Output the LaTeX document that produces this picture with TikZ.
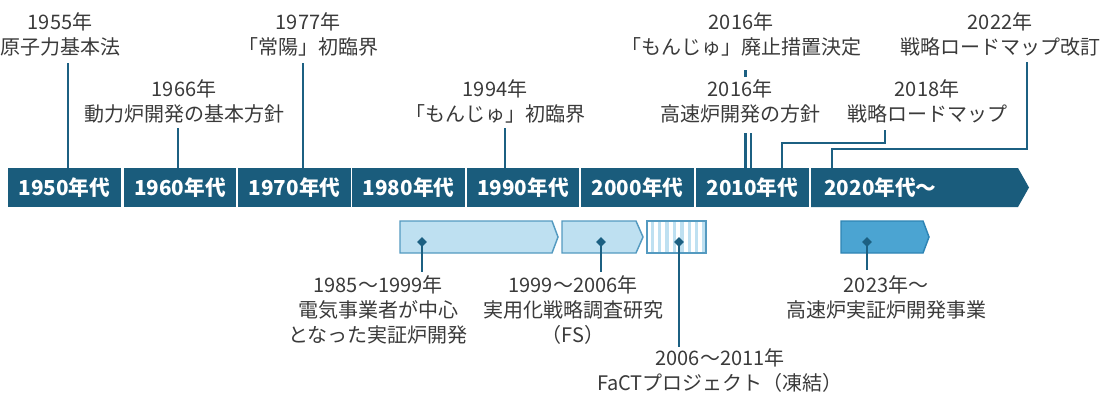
\documentclass[tikz,border=0pt]{standalone}
\usepackage{fontspec}
\setmainfont{Noto Sans CJK JP}
\usetikzlibrary{shapes.geometric}
\definecolor{barcol}{RGB}{26,92,124}
\definecolor{conncol}{RGB}{28,96,130}
\definecolor{lightfill}{RGB}{190,224,241}
\definecolor{lightedge}{RGB}{84,154,192}
\definecolor{midfill}{RGB}{75,164,210}
\definecolor{midedge}{RGB}{46,132,180}
\definecolor{txtcol}{RGB}{58,58,58}
\begin{document}
\begin{tikzpicture}[x=0.75pt,y=-0.75pt,
  lbl/.style={align=center,text=txtcol,font=\fontsize{15}{18.75}\selectfont,inner sep=0pt},
  decade/.style={fill=barcol,text=white,font=\fontsize{15.5}{18}\selectfont\bfseries,minimum width=84.4pt,minimum height=29.25pt,inner sep=0pt},
  decadetext/.style={text=white,font=\fontsize{15.5}{18}\selectfont\bfseries,inner sep=0pt},
  connl/.style={draw=conncol,line width=1.7pt},
  dotmark/.style={diamond,fill=conncol,inner sep=0pt,minimum size=7.5pt},
  lightbox/.style={fill=lightfill,draw=lightedge,line width=1.1pt},
  midbox/.style={fill=midfill,draw=midedge,line width=1.1pt},
]
\useasboundingbox (0,0) rectangle (1109,396);
\coordinate (bartop) at (0,168);

% decade bar
\node[decade] (d1950) at (64.3,187.5) {1950年代};
\node[decade] (d1960) at (180,187.5) {1960年代};
\node[decade] (d1970) at (294.5,187.5) {1970年代};
\node[decade] (d1980) at (408.5,187.5) {1980年代};
\node[decade] (d1990) at (523,187.5) {1990年代};
\node[decade] (d2000) at (637.5,187.5) {2000年代};
\node[decade] (d2010) at (752.3,187.5) {2010年代};
\fill[barcol] (811,168) -- (1018,168) -- (1029,187.5) -- (1018,207) -- (811,207) -- cycle;
\node[decadetext,anchor=west] (d2020) at (824,187.5) {2020年代〜};

% top labels
\node[lbl] (t1955) at (60,34.5) {1955年\\原子力基本法};
\node[lbl] (t1966) at (184,101.5) {1966年\\動力炉開発の基本方針};
\node[lbl] (t1977) at (308,34.5) {1977年\\「常陽」初臨界};
\node[lbl] (t1994) at (495,101.5) {1994年\\「もんじゅ」初臨界};
\node[lbl] (t2016a) at (741,34.5) {2016年\\「もんじゅ」廃止措置決定};
\node[lbl] (t2016b) at (740,101.5) {2016年\\高速炉開発の方針};
\node[lbl] (t2018) at (927,101.5) {2018年\\戦略ロードマップ};
\node[lbl] (t2022) at (1000,34.5) {2022年\\戦略ロードマップ改訂};

% top connectors
\coordinate (c1955) at (68,63);
\coordinate (c1966) at (178,128);
\coordinate (c1977) at (303,63);
\coordinate (c1994) at (505,128);
\coordinate (c2016a) at (745.5,70);
\coordinate (c2016abrk) at (745.5,77);
\coordinate (c2016ares) at (745.5,133);
\coordinate (c2016b) at (751,133);
\coordinate (c2018) at (885,130);
\coordinate (k2018) at (782,143);
\coordinate (c2022) at (1027,62);
\coordinate (k2022) at (832,149);
\draw[connl] (c1955) -- (c1955 |- bartop);
\draw[connl] (c1966) -- (c1966 |- bartop);
\draw[connl] (c1977) -- (c1977 |- bartop);
\draw[connl] (c1994) -- (c1994 |- bartop);
\draw[connl] (c2016a) -- (c2016abrk);
\draw[connl] (c2016ares) -- (c2016ares |- bartop);
\draw[connl] (c2016b) -- (c2016b |- bartop);
\draw[connl] (c2018) |- (k2018) -- (k2018 |- bartop);
\draw[connl] (c2022) |- (k2022) -- (k2022 |- bartop);

% period boxes
\draw[lightbox] (400,221) -- (552,221) -- (558,237) -- (552,253) -- (400,253) -- cycle;
\draw[lightbox] (562,221) -- (636,221) -- (643,237) -- (636,253) -- (562,253) -- cycle;
\fill[white] (647,221) rectangle (706,253);
\foreach \i in {0,...,7} \fill[lightfill] ({650.5+7.4*\i},221) rectangle ({654+7.4*\i},253);
\draw[draw=lightedge,line width=1.1pt] (647,221) rectangle (706,253);
\draw[midbox] (841,221) -- (923,221) -- (929,237) -- (923,253) -- (841,253) -- cycle;

% bottom labels
\node[lbl] (b1985) at (378,310) {1985〜1999年\\電気事業者が中心\\となった実証炉開発};
\node[lbl] (b1999) at (573,310) {1999〜2006年\\実用化戦略調査研究\\（FS）};
\node[lbl] (b2006) at (720,370.5) {2006〜2011年\\FaCTプロジェクト（凍結）};
\node[lbl] (b2023) at (886,297.5) {2023年〜\\高速炉実証炉開発事業};

% bottom connectors
\node[dotmark] (p1985) at (422,242) {};
\node[dotmark] (p1999) at (601,242) {};
\node[dotmark] (p2006) at (679,242) {};
\node[dotmark] (p2023) at (867,242) {};
\coordinate (e1985) at (422,272);
\coordinate (e1999) at (601,272);
\coordinate (e2006) at (679,347);
\coordinate (e2023) at (867,270);
\draw[connl] (p1985.center) -- (e1985);
\draw[connl] (p1999.center) -- (e1999);
\draw[connl] (p2006.center) -- (e2006);
\draw[connl] (p2023.center) -- (e2023);
\end{tikzpicture}
\end{document}
